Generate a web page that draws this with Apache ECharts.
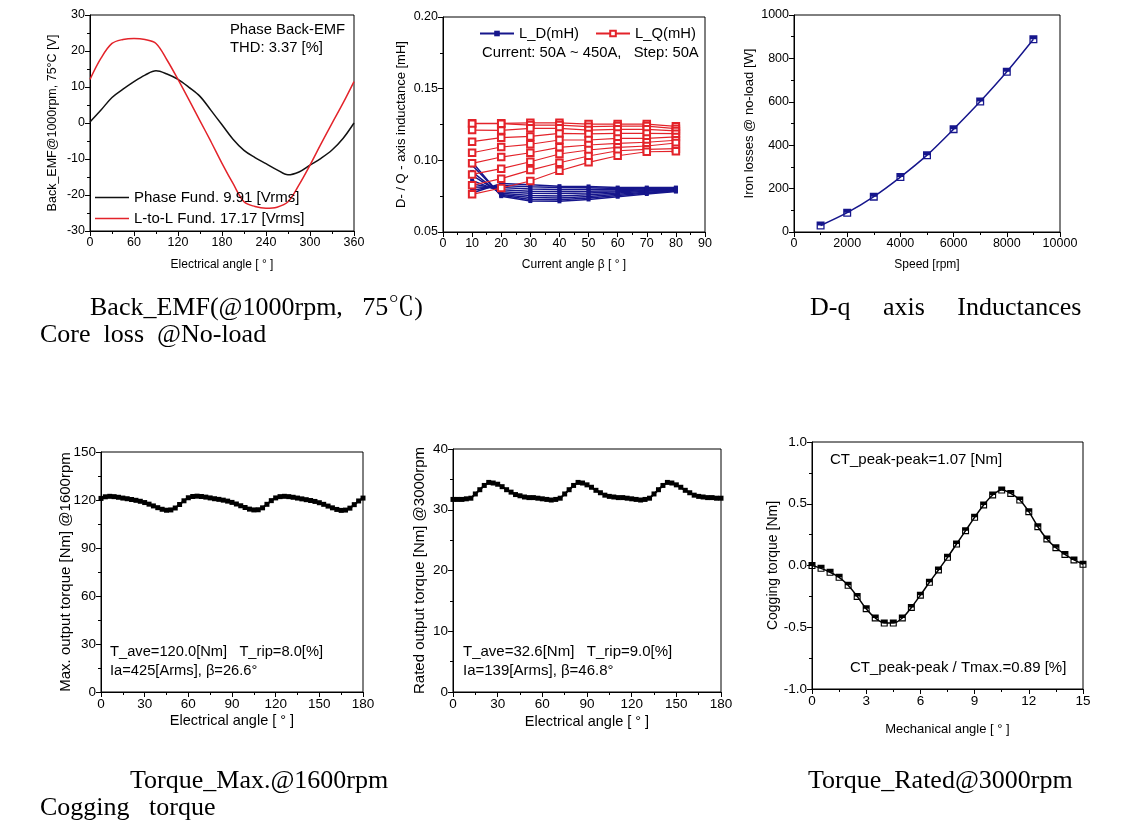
<!DOCTYPE html>
<html>
<head>
<meta charset="utf-8">
<script src="https://cdn.jsdelivr.net/npm/echarts@6/dist/echarts.min.js"></script>
<style>
html,body{margin:0;padding:0;background:#fff;}
#c{width:1132px;height:838px;}
</style>
</head>
<body>
<div id="c"></div>
<script>
// ---------------- DATA ----------------
// Panel 1: Back-EMF @1000rpm, 75C
const emfAngle = [0,15,30,45,60,75,90,105,120,135,150,165,180,195,210,225,240,255,270,285,300,315,330,345,360];
const emfPhase = [0.3,3.6,7.1,9.4,11.5,13.3,14.5,13.6,12.1,9.9,7.4,3.5,-0.5,-4.5,-7.6,-9.6,-11.3,-13.0,-14.4,-13.6,-11.7,-9.8,-7.5,-4.3,0];
const emfLL    = [12.1,18.0,22.1,23.2,23.5,23.2,22.1,17.5,12.1,6.4,0.6,-5.2,-11.2,-16.8,-21.9,-23.2,-23.7,-23.4,-21.9,-17.2,-11.7,-5.8,-0.1,5.5,11.5];

// Panel 2: D-q axis inductances (mH) vs current angle beta, currents 50A..450A
const beta = [10,20,30,40,50,60,70,80];
const lq50A  = [0.1258,0.1258,0.1262,0.1262,0.1253,0.1253,0.1253,0.1237];
const lq100A = [0.1256,0.1256,0.1246,0.1246,0.1235,0.1239,0.1239,0.1221];
const lq150A = [0.1211,0.1209,0.1223,0.1223,0.1211,0.1216,0.1216,0.1205];
const lq200A = [0.1130,0.1158,0.1167,0.1188,0.1184,0.1188,0.1188,0.1186];
const lq250A = [0.1053,0.1093,0.1112,0.1142,0.1142,0.1153,0.1153,0.1163];
const lq300A = [0.0979,0.1023,0.1053,0.1091,0.1107,0.1119,0.1126,0.1140];
const lq350A = [0.0902,0.0942,0.0990,0.1044,0.1072,0.1091,0.1100,0.1121];
const lq400A = [0.0826,0.0872,0.0932,0.0983,0.1030,0.1067,0.1077,0.1081];
const lq450A = [0.0763,0.0807,0.0856,0.0927,0.0986,0.1032,0.1060,0.1063];
const ld50A  = [0.0772,0.0838,0.0830,0.0820,0.0818,0.0810,0.0810,0.0810];
const ld100A = [0.0791,0.0825,0.0815,0.0810,0.0808,0.0803,0.0805,0.0806];
const ld150A = [0.0814,0.0810,0.0800,0.0797,0.0797,0.0797,0.0800,0.0802];
const ld200A = [0.0837,0.0795,0.0785,0.0783,0.0785,0.0788,0.0795,0.0799];
const ld250A = [0.0860,0.0780,0.0770,0.0768,0.0772,0.0780,0.0790,0.0796];
const ld300A = [0.0895,0.0770,0.0755,0.0752,0.0760,0.0772,0.0785,0.0793];
const ld350A = [0.0919,0.0762,0.0740,0.0738,0.0748,0.0763,0.0778,0.0790];
const ld400A = [0.0965,0.0756,0.0727,0.0725,0.0737,0.0755,0.0772,0.0786];
const ld450A = [0.0988,0.0750,0.0716,0.0714,0.0727,0.0746,0.0765,0.0782];

// Panel 3: Core loss @ no-load
const speedRpm = [1000,2000,3000,4000,5000,6000,7000,8000,9000];
const ironLossW = [30,89,163,253,354,474,601,738,888];

// Panel 4 & 5: torque vs electrical angle (3 deg steps)
const torqueAngle = [0,3,6,9,12,15,18,21,24,27,30,33,36,39,42,45,48,51,54,57,60,63,66,69,72,75,78,81,84,87,90,93,96,99,102,105,108,111,114,117,120,123,126,129,132,135,138,141,144,147,150,153,156,159,162,165,168,171,174,177,180];
const torqueMax = [121.0,122.0,122.3,122.1,121.7,121.2,120.8,120.3,119.8,119.2,118.4,117.4,116.3,115.2,114.2,113.6,113.8,115.0,117.2,119.5,
                   121.4,122.2,122.4,122.2,121.8,121.3,120.8,120.4,119.9,119.3,118.5,117.5,116.4,115.3,114.3,113.8,113.9,115.1,117.3,119.6,
                   121.3,122.1,122.3,122.1,121.7,121.2,120.7,120.2,119.7,119.1,118.3,117.3,116.2,115.1,114.1,113.5,113.7,114.9,117.1,119.4,121.2];
const torqueRated = [31.7,31.7,31.7,31.8,31.9,32.6,33.3,34.0,34.5,34.4,34.2,33.8,33.3,32.9,32.5,32.3,32.1,32.0,32.0,31.9,
                     31.8,31.7,31.6,31.7,31.9,32.6,33.3,34.0,34.5,34.4,34.1,33.7,33.2,32.8,32.4,32.2,32.1,32.0,32.0,31.9,
                     31.8,31.7,31.6,31.7,31.9,32.6,33.3,34.0,34.5,34.4,34.1,33.7,33.2,32.8,32.4,32.2,32.1,32.0,32.0,31.9,31.9];

// Panel 6: cogging torque vs mechanical angle
const mechAngle = [0,0.5,1,1.5,2,2.5,3,3.5,4,4.5,5,5.5,6,6.5,7,7.5,8,8.5,9,9.5,10,10.5,11,11.5,12,12.5,13,13.5,14,14.5,15];
const cogging = [0,-0.023,-0.055,-0.096,-0.16,-0.25,-0.35,-0.425,-0.466,-0.466,-0.425,-0.34,-0.24,-0.136,-0.036,0.066,0.174,0.282,0.39,0.49,0.571,0.611,0.584,0.53,0.436,0.314,0.215,0.144,0.09,0.045,0.01];

// ---------------- CHART ----------------
const SANS = "'Liberation Sans', Arial, Helvetica, sans-serif";
const SERIF = "'Liberation Serif', 'Times New Roman', 'Noto Serif CJK KR', 'Noto Sans CJK KR', 'DejaVu Serif', serif";
const RED = '#e3232a';
const NAVY = '#16168c';
const HALF = 'path://M0,0 L10,0 L10,10 L0,10 Z M1.6,5 L1.6,8.4 L8.4,8.4 L8.4,5 Z';
const plain = v => String(v);

function pair(xs, ys){ return xs.map((x,i)=>[x, ys[i]]); }

const grids = [
  {left:90,  top:15,  width:264, height:216},
  {left:443, top:17,  width:262, height:215},
  {left:794, top:15,  width:266, height:217},
  {left:101, top:452, width:262, height:240},
  {left:453, top:449, width:268, height:243},
  {left:812, top:442, width:271, height:247}
].map(g => Object.assign({show:true, borderColor:'#000', borderWidth:1, backgroundColor:'transparent', containLabel:false}, g));

function axisBase(fs){
  return {
    axisLine:{show:true, onZero:false, lineStyle:{color:'#000', width:1}},
    axisTick:{show:true, inside:false, length:5, lineStyle:{color:'#000', width:1}},
    minorTick:{show:true, splitNumber:2, length:3, lineStyle:{color:'#000', width:1}},
    splitLine:{show:false},
    axisLabel:{color:'#000', fontSize:fs, fontFamily:SANS, margin:5, formatter:plain},
    nameTextStyle:{color:'#000', fontFamily:SANS},
    nameLocation:'middle',
    nameMoveOverlap:false
  };
}
function ax(gi, min, max, interval, name, gap, fs, nfs, fmt){
  const a = Object.assign(axisBase(fs), {type:'value', gridIndex:gi, min, max, interval, name, nameGap:gap});
  a.nameTextStyle.fontSize = nfs;
  if (fmt) a.axisLabel.formatter = fmt;
  return a;
}

const xAxes = [
  ax(0, 0, 360, 60, 'Electrical angle [ ° ]', 28, 12.5, 12),
  ax(1, 0, 90, 10, 'Current angle β [ ° ]', 27, 12.5, 12),
  ax(2, 0, 10000, 2000, 'Speed [rpm]', 27, 12.5, 12),
  ax(3, 0, 180, 30, 'Electrical angle [ ° ]', 21, 13.5, 14.5),
  ax(4, 0, 180, 30, 'Electrical angle [ ° ]', 22.5, 13.5, 14.5),
  ax(5, 0, 15, 3, 'Mechanical angle [ ° ]', 34, 13.5, 13)
];
const yAxes = [
  ax(0, -30, 30, 10, 'Back_EMF@1000rpm, 75°C [V]', 30.5, 12.5, 12.5),
  ax(1, 0.05, 0.20, 0.05, 'D- / Q - axis inductance [mH]', 35.5, 12.5, 13, v => v.toFixed(2)),
  ax(2, 0, 1000, 200, 'Iron losses @ no-load [W]', 38.5, 12.5, 13),
  ax(3, 0, 150, 30, 'Max. output torque [Nm] @1600rpm', 28, 13.5, 15),
  ax(4, 0, 40, 10, 'Rated output torque [Nm] @3000rpm', 25.5, 13.5, 15),
  ax(5, -1, 1, 0.5, 'Cogging torque [Nm]', 32, 13.5, 14, v => v.toFixed(1))
];

const series = [];
series.push({type:'line', name:'Phase Fund. 9.91 [Vrms]', xAxisIndex:0, yAxisIndex:0, data:pair(emfAngle, emfPhase), smooth:0.35, symbol:'none', lineStyle:{color:'#111', width:1.5}, itemStyle:{color:'#111'}});
series.push({type:'line', name:'L-to-L Fund. 17.17 [Vrms]', xAxisIndex:0, yAxisIndex:0, data:pair(emfAngle, emfLL), smooth:0.35, symbol:'none', lineStyle:{color:RED, width:1.5}, itemStyle:{color:RED}});

const lqAll = [lq50A,lq100A,lq150A,lq200A,lq250A,lq300A,lq350A,lq400A,lq450A];
const ldAll = [ld50A,ld100A,ld150A,ld200A,ld250A,ld300A,ld350A,ld400A,ld450A];
ldAll.forEach(arr => series.push({type:'line', name:'L_D(mH)', xAxisIndex:1, yAxisIndex:1, data:pair(beta, arr), symbol:'rect', symbolSize:4, lineStyle:{color:NAVY, width:1.5}, itemStyle:{color:NAVY}}));
lqAll.forEach(arr => series.push({type:'line', name:'L_Q(mH)', xAxisIndex:1, yAxisIndex:1, data:pair(beta, arr), symbol:'emptyRect', symbolSize:6.5, lineStyle:{color:RED, width:1.2}, itemStyle:{color:RED, borderWidth:1.1}}));

series.push({type:'line', name:'Iron', xAxisIndex:2, yAxisIndex:2, data:pair(speedRpm, ironLossW), smooth:0.3, symbol:HALF, symbolSize:8, lineStyle:{color:NAVY, width:1.5}, itemStyle:{color:NAVY}});

series.push({type:'line', name:'Tmax', xAxisIndex:3, yAxisIndex:3, data:pair(torqueAngle, torqueMax), symbol:'rect', symbolSize:5, lineStyle:{color:'#000', width:2}, itemStyle:{color:'#000'}});
series.push({type:'line', name:'Trated', xAxisIndex:4, yAxisIndex:4, data:pair(torqueAngle, torqueRated), symbol:'rect', symbolSize:5, lineStyle:{color:'#000', width:2}, itemStyle:{color:'#000'}});

series.push({type:'line', name:'Cog', xAxisIndex:5, yAxisIndex:5, data:pair(mechAngle, cogging), smooth:0.3, symbol:HALF, symbolSize:7, lineStyle:{color:'#000', width:1.5}, itemStyle:{color:'#000'}});

function txt(x, y, s, fs, fam){
  return {type:'text', x, y, style:{text:s, fill:'#000', font:`${fs}px ${fam||SANS}`, textVerticalAlign:'middle', verticalAlign:'middle'}};
}

const graphic = [
  txt(230, 30, 'Phase Back-EMF', 14.8),
  txt(230, 48, 'THD: 3.37 [%]', 14.8),
  txt(482, 53, 'Current: 50A ~ 450A,   Step: 50A', 14.8),
  txt(110, 652, 'T_ave=120.0[Nm]   T_rip=8.0[%]', 14.7),
  txt(110, 671, 'Ia=425[Arms], β=26.6°', 14.7),
  txt(463, 652, 'T_ave=32.6[Nm]   T_rip=9.0[%]', 15),
  txt(463, 671, 'Ia=139[Arms], β=46.8°', 15),
  txt(830, 460, 'CT_peak-peak=1.07 [Nm]', 15),
  txt(850, 668, 'CT_peak-peak / Tmax.=0.89 [%]', 15),
  txt(90, 308, 'Back_EMF(@1000rpm,   75℃)', 26, SERIF),
  txt(40, 335, 'Core  loss  @No-load', 26, SERIF),
  txt(810, 308, 'D-q     axis     Inductances', 26, SERIF),
  txt(130, 781, 'Torque_Max.@1600rpm', 26, SERIF),
  txt(40, 808, 'Cogging   torque', 26, SERIF),
  txt(808, 781, 'Torque_Rated@3000rpm', 26, SERIF)
];

const chart = echarts.init(document.getElementById('c'), null, {renderer:'canvas'});
chart.setOption({
  animation:false,
  backgroundColor:'#fff',
  grid:grids,
  xAxis:xAxes,
  yAxis:yAxes,
  legend:[
    {data:[{name:'Phase Fund. 9.91 [Vrms]', icon:'rect'},{name:'L-to-L Fund. 17.17 [Vrms]', icon:'rect'}], orient:'vertical', left:90, top:185, itemWidth:34, itemHeight:1.6, itemGap:6, padding:5, textStyle:{fontSize:15, fontFamily:SANS, color:'#000', padding:[0,0,0,0]}},
    {data:['L_D(mH)','L_Q(mH)'], orient:'horizontal', left:474, top:21, itemWidth:34, itemHeight:7, itemGap:16, textStyle:{fontSize:14.8, fontFamily:SANS, color:'#000'}}
  ],
  series,
  graphic
});
</script>
</body>
</html>
